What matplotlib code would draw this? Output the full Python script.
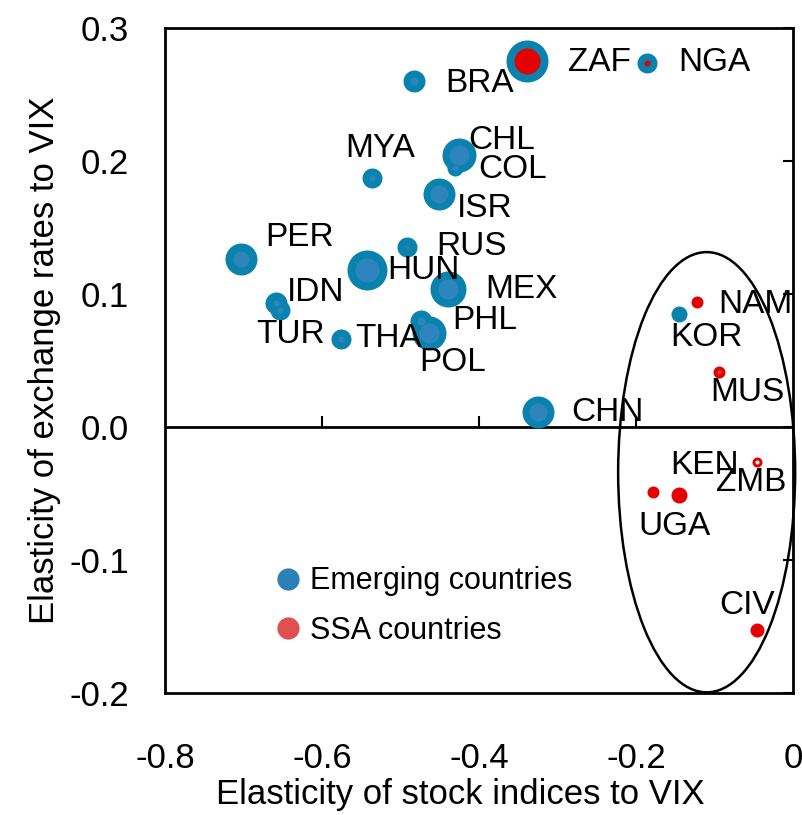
import matplotlib
matplotlib.use('Agg')
import matplotlib.pyplot as plt
from matplotlib.patches import Ellipse
from matplotlib.lines import Line2D

plt.rcParams['font.family'] = ['Liberation Sans', 'DejaVu Sans']

# data
countries = ['COL', 'ZAF', 'NGA', 'BRA', 'MYA', 'CHL', 'ISR', 'RUS', 'PER', 'HUN', 'MEX',
             'IDN', 'TUR', 'THA', 'PHL', 'POL', 'CHN', 'KOR', 'NAM', 'MUS', 'ZMB',
             'KEN', 'UGA', 'CIV']
stock_elast = [-0.431, -0.339, -0.186, -0.483, -0.536, -0.425, -0.451, -0.492, -0.703, -0.543,
               -0.439, -0.659, -0.654, -0.576, -0.474, -0.464, -0.325, -0.145, -0.122, -0.094,
               -0.046, -0.178, -0.145, -0.046]
fx_elast = [0.195, 0.275, 0.274, 0.260, 0.187, 0.2045, 0.175, 0.135, 0.126, 0.118, 0.104,
            0.093, 0.088, 0.066, 0.080, 0.071, 0.011, 0.085, 0.094, 0.041, -0.026,
            -0.049, -0.051, -0.153]
# bubble radii (outer / inner)
outer_r = [8, 21, 10, 11, 10, 17, 16, 10, 16, 20, 18, 11, 10, 10, 11, 17, 16, 8, 6, 6, 5, 6, 8, 7]
inner_r = [3, 13, 3, 4, 3, 10, 9, 2, 8, 12, 10, 3, 3, 3, 4, 10, 9, 0, 0, 2, 2, 0, 0, 0]
group = ['EM', 'EM', 'EM', 'EM', 'EM', 'EM', 'EM', 'EM', 'EM', 'EM', 'EM', 'EM', 'EM', 'EM',
         'EM', 'EM', 'EM', 'EM', 'SSA', 'SSA', 'SSA', 'SSA', 'SSA', 'SSA']
inner_group = ['EM', 'SSA', 'SSA', 'EM', 'EM', 'EM', 'EM', 'EM', 'EM', 'EM', 'EM', 'EM', 'EM',
               'EM', 'EM', 'EM', 'EM', 'EM', 'SSA', 'SSAlt', 'white', 'SSA', 'SSA', 'SSA']
label_offsets = [(24, -2), (41, -1), (31, 0), (31, -2), (-27, 30), (9, 15), (18, -14), (29, 1),
                 (24, 22), (21, 0), (37, -1), (11, 11), (-23, -25), (14, 1), (31, 0), (-10, -30),
                 (33, 0), (-9, -24), (21, -3), (-9, -20), (-41, -21), (17, 27), (-41, -32), (-38, 25)]

outer_col = {'EM': '#0A82AE', 'SSA': '#E50000'}
inner_col = {'EM': '#2E85BE', 'SSA': '#E50000', 'SSAlt': '#F04040', 'white': '#FFFFFF'}

fig = plt.figure(figsize=(8.03, 8.15), dpi=100)
ax = fig.add_axes([165 / 803, 1 - 693 / 815, 628 / 803, 665 / 815])

px2s = lambda r: (1.44 * r) ** 2
for i, c in enumerate(countries):
    ax.scatter(stock_elast[i], fx_elast[i], s=px2s(outer_r[i]), color=outer_col[group[i]],
               linewidths=0, zorder=3)
    if inner_r[i] > 0:
        ax.scatter(stock_elast[i], fx_elast[i], s=px2s(inner_r[i]),
                   color=inner_col[inner_group[i]], linewidths=0, zorder=4)
    dx, dy = label_offsets[i]
    ax.annotate(c, (stock_elast[i], fx_elast[i]), xytext=(dx, dy), textcoords='offset pixels',
                ha='left', va='center', fontsize=24, zorder=5)

ax.set_xlim(-0.8, 0)
ax.set_ylim(-0.2, 0.3)
xt = [-0.8, -0.6, -0.4, -0.2, 0]
ax.set_xticks(xt)
ax.set_xticklabels(['-0.8', '-0.6', '-0.4', '-0.2', '0'])
ax.set_yticks([-0.2, -0.1, 0.0, 0.1, 0.2, 0.3])
ax.set_yticklabels(['-0.2', '-0.1', '0.0', '0.1', '0.2', '0.3'])
ax.tick_params(axis='x', bottom=False, labelsize=25, pad=32)
ax.tick_params(axis='y', left=False, right=True, direction='in', length=7, width=1.5,
               labelsize=25, pad=26)
for sp in ax.spines.values():
    sp.set_linewidth(2)
ax.axhline(0, color='black', lw=2, zorder=2)
ax.vlines(xt[1:-1], 0, 0.008, color='black', lw=1.5, zorder=2)

# circle round the SSA group
ell = Ellipse((-0.110, -0.034), 0.2255, 0.331, fill=False, edgecolor='black', lw=1.8,
              clip_on=False, zorder=2)
ax.add_patch(ell)

ax.set_xlabel('Elasticity of stock indices to VIX', fontsize=25)
ax.xaxis.set_label_coords(0.47, -0.128)
ax.set_ylabel('Elasticity of exchange rates to VIX', fontsize=25, labelpad=6)

handles = [Line2D([], [], marker='o', ls='', markersize=16, color='#2A81B8', mew=0),
           Line2D([], [], marker='o', ls='', markersize=16, color='#E05050', mew=0)]
ax.legend(handles, ['Emerging countries', 'SSA countries'], loc='lower left',
          bbox_to_anchor=(0.128, 0.03), frameon=False, fontsize=22, handletextpad=0.2,
          labelspacing=0.63, handlelength=1.0)

fig.savefig('out.png', dpi=100)
